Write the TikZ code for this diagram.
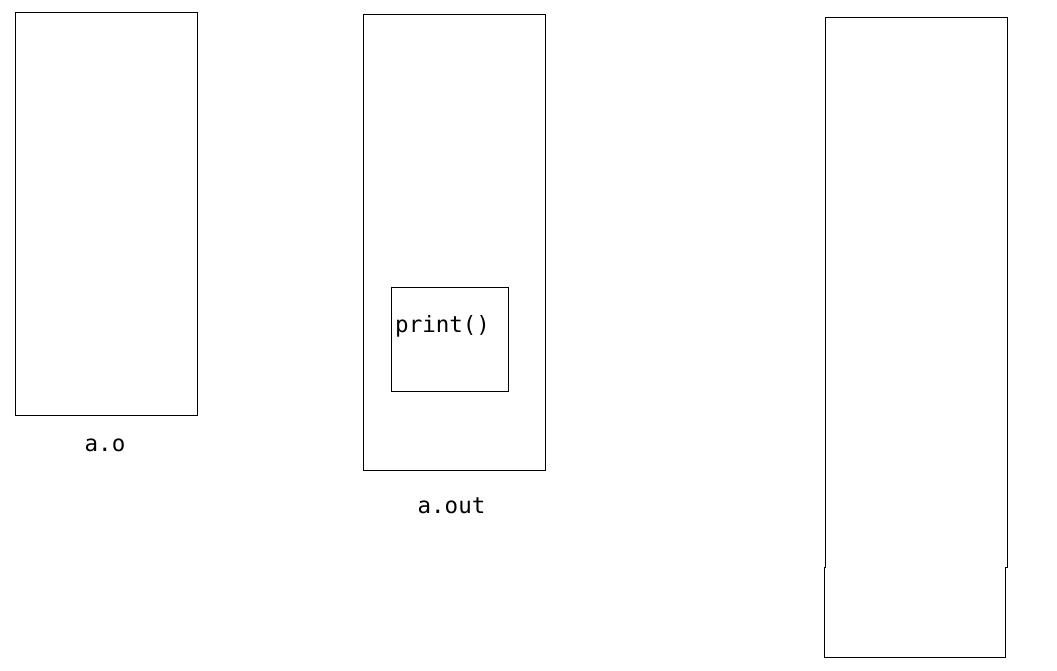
\documentclass[tikz,border=0pt]{standalone}
\usepackage{fontspec}
\setmonofont{DejaVu Sans Mono}

\tikzset{
  filebox/.style={draw=black, line width=0.8pt, inner sep=0pt},
  filename/.style={font=\fontsize{22.5}{27}\selectfont\ttfamily, inner sep=0pt}
}

\begin{document}
\begin{tikzpicture}[x=1pt, y=-1pt]
  \useasboundingbox (0,0) rectangle (1057,670);
  % object file
  \node[filebox, minimum width=182pt, minimum height=403pt] (objbox) at (106,213.5) {};
  \node[filename, anchor=base] (objlabel) at (105,451) {a.o};
  % executable
  \node[filebox, minimum width=182pt, minimum height=456pt] (exebox) at (454,242) {};
  \node[filename, anchor=base] (exelabel) at (451.5,513) {a.out};
  \node[filebox, minimum width=117pt, minimum height=104pt] (printbox) at (449.5,339) {};
  \node[filename, anchor=base west] (printlabel) at (395,332) {print()};
  % memory
  \draw[line width=0.8pt] (825,17) -- (1007,17) -- (1007,567.5) -- (1005,567.5) -- (1005,657)
    -- (824,657) -- (824,567.5) -- (825,567.5) -- cycle;
\end{tikzpicture}
\end{document}
